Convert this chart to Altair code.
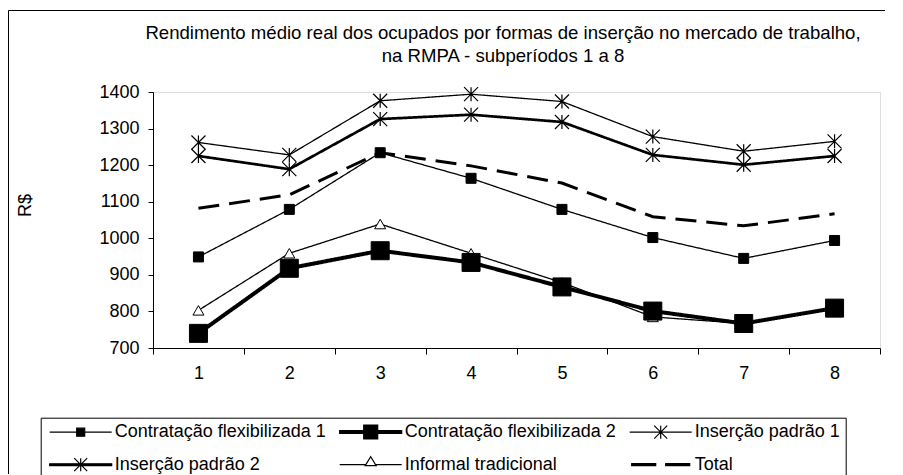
import altair as alt
import pandas as pd

# ---------------- data ----------------
periods = [1, 2, 3, 4, 5, 6, 7, 8]
series_names = [
    "Contratação flexibilizada 1",
    "Contratação flexibilizada 2",
    "Inserção padrão 1",
    "Inserção padrão 2",
    "Informal tradicional",
    "Total",
]
contr_flex_1 = [949, 1079, 1234, 1164, 1079, 1002, 945, 994]
contr_flex_2 = [740, 918, 966, 934, 867, 801, 767, 809]
insercao_padrao_1 = [1262, 1228, 1376, 1394, 1374, 1278, 1238, 1265]
insercao_padrao_2 = [1225, 1189, 1326, 1338, 1318, 1228, 1201, 1225]
informal_trad = [803, 959, 1039, 959, 879, 785, 767, 810]
total = [1082, 1119, 1234, 1198, 1151, 1059, 1034, 1067]
y_ticks = [700, 800, 900, 1000, 1100, 1200, 1300, 1400]
title_lines = [
    "Rendimento médio real dos ocupados por formas de inserção no mercado de trabalho,",
    "na RMPA - subperíodos 1 a 8",
]
y_title = "R$"

rows = []
for name, vals in zip(series_names, [contr_flex_1, contr_flex_2, insercao_padrao_1,
                                     insercao_padrao_2, informal_trad, total]):
    for p, v in zip(periods, vals):
        rows.append({"periodo": p, "valor": v, "serie": name})
df = pd.DataFrame(rows)

FONT = "Liberation Sans"

# ---------------- encodings ----------------
x_enc = alt.X(
    "periodo:O",
    bandPosition=0.5,
    scale=alt.Scale(type="band", paddingInner=0, paddingOuter=0),
    axis=alt.Axis(title=None, labelAngle=0, tickBand="extent", tickSize=6,
                  labelPadding=10, labelFontSize=18, labelFont=FONT,
                  labelColor="black", domainColor="black", tickColor="black",
                  grid=False),
)
y_enc = alt.Y(
    "valor:Q",
    scale=alt.Scale(domain=[700, 1400], nice=False, zero=False),
    axis=alt.Axis(values=y_ticks, format="d", title=y_title, titleFontSize=18,
                  titleFont=FONT, titleFontWeight="normal", titleColor="black",
                  titleX=-128, titleY=113, titleAngle=-90, titleBaseline="middle",
                  titleAlign="center", labelFontSize=18, labelFont=FONT,
                  labelColor="black", tickSize=5, labelPadding=9,
                  domainColor="black", tickColor="black", grid=False),
)

line_widths = [1.3, 4, 1.3, 2.7, 1.3, 3]
line_dashes = [[1, 0], [1, 0], [1, 0], [1, 0], [1, 0], [21, 10]]
fill_scale = alt.Scale(domain=series_names,
                       range=["black", "black", "black", "black", "white", "black"])
stroke_scale = alt.Scale(domain=series_names, range=["black"] * 6)

# legend symbols (1 unit = 5 px): series line + marker drawn in one path
legend_paths = [
    "M-6.2,0H6.2M-0.8,-0.8H0.8V0.8H-0.8Z",
    "M-6.2,-0.3H6.2V0.3H-6.2ZM-1.4,-1.4H1.4V1.4H-1.4Z",
    "M-6.2,0H6.2M-1.3,-1.3L1.3,1.3M-1.3,1.3L1.3,-1.3M0,-1.3V1.3",
    "M-6.2,-0.17H6.2V0.17H-6.2ZM-1.3,-1.3L1.3,1.3M-1.3,1.3L1.3,-1.3M0,-1.3V1.3",
    "M-6.2,0H-1.0M1.0,0H6.2M0,-1.6L1.1,0.2H-1.1Z",
    "M-5.8,-0.2H-1.0V0.2H-5.8ZM1.0,-0.2H5.8V0.2H1.0Z",
]
shape_scale = alt.Scale(domain=series_names, range=legend_paths)

leg = dict(
    title=None, orient="none", legendX=-112.3, legendY=325.7, columns=3,
    direction="horizontal", strokeColor="black", fillColor="white", padding=5,
    cornerRadius=0, labelFont=FONT, labelFontSize=18, labelColor="black",
    labelLimit=400, rowPadding=12, columnPadding=9, gridAlign="all",
    symbolOffset=26, labelOffset=25, symbolSize=100, symbolStrokeColor="black",
    symbolStrokeWidth=1.2, symbolOpacity=1,
)

# ---------------- layers ----------------
frame_df = pd.DataFrame({"k": [0]})
frame_top = alt.Chart(frame_df).mark_rule(color="black", strokeWidth=1).encode(
    x=alt.value(-144.5), x2=alt.value(1000), y=alt.value(-81.5)
)
frame_left = alt.Chart(frame_df).mark_rule(color="black", strokeWidth=1).encode(
    x=alt.value(-144.5), y=alt.value(-81.5), y2=alt.value(382)
)

title_df = pd.DataFrame({"t": title_lines, "i": [0, 1]})
title_l1 = alt.Chart(title_df).transform_filter("datum.i == 0").mark_text(
    font=FONT, fontSize=18.6, color="black", baseline="middle", align="center"
).encode(text="t:N", x=alt.value(350), y=alt.value(-59))
title_l2 = alt.Chart(title_df).transform_filter("datum.i == 1").mark_text(
    font=FONT, fontSize=18.6, color="black", baseline="middle", align="center"
).encode(text="t:N", x=alt.value(350), y=alt.value(-36))


def line_layer(name, width, dash):
    return alt.Chart(df).transform_filter(alt.datum.serie == name).mark_line(
        color="black", strokeWidth=width, strokeDash=dash
    ).encode(x=x_enc, y=y_enc)


line_layers = [line_layer(n, w, d) for n, w, d in zip(series_names, line_widths, line_dashes)]

STAR = "M-1,-1L1,1M-1,1L1,-1M0,-1V1"


def pts(names, **mk):
    return alt.Chart(df).transform_filter(
        alt.FieldOneOfPredicate(field="serie", oneOf=names)
    ).mark_point(opacity=1, **mk).encode(x=x_enc, y=y_enc)


p_inf = pts([series_names[4]], shape="triangle-up", filled=True, fill="white",
            stroke="black", strokeWidth=1, size=121)
p_cf1 = pts([series_names[0]], shape="square", filled=True, fill="black",
            stroke="black", strokeWidth=1, size=100)
p_cf2 = pts([series_names[1]], shape="square", filled=True, fill="black",
            stroke="black", strokeWidth=1, size=324)
p_ip = pts([series_names[2], series_names[3]], shape=STAR, filled=False,
           stroke="black", strokeWidth=1.2, size=196)

legend_layer = alt.Chart(df).mark_point(opacity=0, filled=False).encode(
    x=x_enc, y=y_enc,
    shape=alt.Shape("serie:N", scale=shape_scale, legend=alt.Legend(**leg)),
    fill=alt.Fill("serie:N", scale=fill_scale, legend=alt.Legend(**leg)),
    stroke=alt.Stroke("serie:N", scale=stroke_scale, legend=alt.Legend(**leg)),
)

chart = alt.layer(
    frame_top, frame_left, title_l1, title_l2, *line_layers,
    p_inf, p_cf1, p_cf2, p_ip, legend_layer
).properties(
    width=727,
    height=256,
    padding={"left": 145, "top": 84, "right": 5, "bottom": 127},
    autosize=alt.AutoSizeParams(type="none"),
).configure_view(stroke="#808080", strokeWidth=1).configure(background="white")

chart.save("out.html", embed_options={"renderer": "svg", "actions": False})
